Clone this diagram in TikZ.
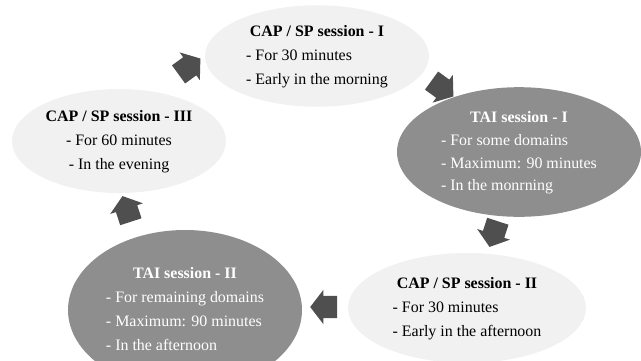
\documentclass[tikz,border=0pt]{standalone}
\usepackage{fontspec}
\setmainfont{Liberation Serif}
\usetikzlibrary{shapes.geometric, shapes.arrows}

\definecolor{palegray}{HTML}{F1F1F1}
\definecolor{midgray}{HTML}{8E8E8E}
\definecolor{arrowgray}{HTML}{4F4F4F}

% title centred over left-aligned items
\newcommand{\sessionl}[2]{\begin{tabular}{@{}l@{}}\multicolumn{1}{@{}c@{}}{\textbf{#1}}\\#2\end{tabular}}
% everything centred
\newcommand{\sessionc}[2]{\begin{tabular}{@{}c@{}}\textbf{#1}\\#2\end{tabular}}

\begin{document}
\begin{tikzpicture}[x=1bp,y=-1bp]
\tikzset{
pale/.style={ellipse, fill=palegray, inner sep=0pt, font=\fontsize{16}{24}\selectfont},
dark/.style={pale, fill=midgray, text=white},
turn/.style={single arrow, fill=arrowgray, inner xsep=0pt, inner ysep=11bp, minimum height=27bp,
  single arrow head extend=6bp, single arrow tip angle=105}
}

	\useasboundingbox (0,0) rectangle (641,360);
	\clip (0,0) rectangle (641,360);

	% sessions
	\node[pale, minimum width=224bp, minimum height=94bp] (cap1) at (317,56)
		{\sessionl{CAP / SP session - I}{- For 30 minutes\\- Early in the morning}};
	\node[dark, minimum width=244bp, minimum height=114bp, font=\fontsize{16}{23}\selectfont] (tai1) at (519,152)
		{\sessionl{TAI session - I}{- For some domains\\- Maximum: 90 minutes\\- In the monrning}};
	\node[pale, minimum width=238bp, minimum height=110bp] (cap2) at (467,308)
		{\sessionl{CAP / SP session - II}{- For 30 minutes\\- Early in the afternoon}};
	\node[dark, minimum width=234bp, minimum height=160bp] (tai2) at (185,310)
		{\raisebox{8bp}{\sessionl{TAI session - II}{- For remaining domains\\- Maximum: 90 minutes\\- In the afternoon}}};
	\node[pale, minimum width=214bp, minimum height=104bp] (cap3) at (119,141)
		{\sessionc{CAP / SP session - III}{- For 60 minutes\\- In the evening}};

	% arrows round the cycle
	\node[turn, rotate=36] (a1) at (186,69) {};
	\node[turn, rotate=-36] (a2) at (439,86) {};
	\node[turn, rotate=-108] (a3) at (495,230) {};
	\node[turn, rotate=180] (a4) at (328,307) {};
	\node[turn, rotate=108] (a5) at (128,213) {};

\end{tikzpicture}
\end{document}
